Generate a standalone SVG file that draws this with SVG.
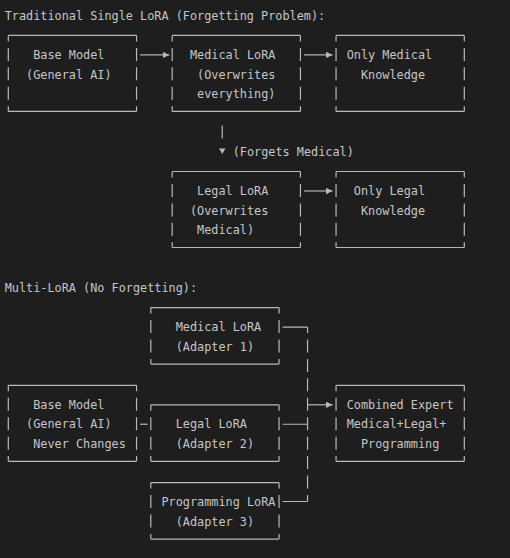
<svg xmlns="http://www.w3.org/2000/svg" width="510" height="558" viewBox="0 0 510 558">
<style>
  .t { font-family: "DejaVu Sans Mono", "Liberation Mono", monospace; font-size: 11.84px; fill: #c6c6c6; }
  .h { fill: none; stroke: #b8b8b8; stroke-width: 1.2; }
  .v { fill: none; stroke: #b8b8b8; stroke-width: 1.2; stroke-dasharray: 13 6.44; stroke-dashoffset: 7; }
  .tri { fill: #b8b8b8; }
</style>
<defs>
  <marker id="arr" markerUnits="userSpaceOnUse" markerWidth="8" markerHeight="8" refX="6.5" refY="3.2" orient="auto">
    <path d="M0,0 L6.5,3.2 L0,6.4 Z" fill="#b8b8b8"/>
  </marker>
</defs>
<rect width="510" height="558" fill="#1e1e1e"/>

<text class="t" x="4.74" y="20.2">Traditional Single LoRA (Forgetting Problem):</text>
<text class="t" x="4.74" y="292.36">Multi-LoRA (No Forgetting):</text>

<g id="base1">
  <path class="h" d="M8.3,35.44 H136.55 M8.3,111.4 H136.55"/>
  <path class="v" d="M8.3,35.44 V111.4 M136.55,35.44 V111.4"/>
  <text class="t" x="33.24" y="59.08">Base Model</text>
  <text class="t" x="26.12" y="78.52">(General AI)</text>
</g>
<g id="medical1">
  <path class="h" d="M172.18,35.44 H300.43 M172.18,111.4 H300.43"/>
  <path class="v" d="M172.18,35.44 V111.4 M300.43,35.44 V111.4"/>
  <text class="t" x="189.99" y="59.08">Medical LoRA</text>
  <text class="t" x="197.12" y="78.52">(Overwrites</text>
  <text class="t" x="197.12" y="97.96">everything)</text>
</g>
<g id="onlymedical">
  <path class="h" d="M336.05,35.44 H464.3 M336.05,111.4 H464.3"/>
  <path class="v" d="M336.05,35.44 V111.4 M464.3,35.44 V111.4"/>
  <text class="t" x="346.74" y="59.08">Only Medical</text>
  <text class="t" x="360.99" y="78.52">Knowledge</text>
</g>
<g id="legal1">
  <path class="h" d="M172.18,171.52 H300.43 M172.18,247.5 H300.43"/>
  <path class="v" d="M172.18,171.52 V247.5 M300.43,171.52 V247.5"/>
  <text class="t" x="197.12" y="195.16">Legal LoRA</text>
  <text class="t" x="189.99" y="214.6">(Overwrites</text>
  <text class="t" x="197.12" y="234.04">Medical)</text>
</g>
<g id="onlylegal">
  <path class="h" d="M336.05,171.52 H464.3 M336.05,247.5 H464.3"/>
  <path class="v" d="M336.05,171.52 V247.5 M464.3,171.52 V247.5"/>
  <text class="t" x="353.87" y="195.16">Only Legal</text>
  <text class="t" x="360.99" y="214.6">Knowledge</text>
</g>

<g id="medicaladapter">
  <path class="h" d="M150.8,307.6 H279.05 M150.8,364.1 H279.05"/>
  <path class="v" d="M150.8,307.6 V364.1 M279.05,307.6 V364.1"/>
  <text class="t" x="175.74" y="331.24">Medical LoRA</text>
  <text class="t" x="175.74" y="350.68">(Adapter 1)</text>
</g>
<g id="base2">
  <path class="h" d="M8.3,385.36 H136.55 M8.3,461.3 H136.55"/>
  <path class="v" d="M8.3,385.36 V461.3 M136.55,385.36 V461.3"/>
  <text class="t" x="33.24" y="409">Base Model</text>
  <text class="t" x="26.12" y="428.44">(General AI)</text>
  <text class="t" x="33.24" y="447.88">Never Changes</text>
</g>
<g id="legaladapter">
  <path class="h" d="M150.8,404.8 H279.05 M150.8,461.3 H279.05"/>
  <path class="v" d="M150.8,404.8 V461.3 M279.05,404.8 V461.3"/>
  <text class="t" x="175.74" y="428.44">Legal LoRA</text>
  <text class="t" x="175.74" y="447.88">(Adapter 2)</text>
</g>
<g id="combined">
  <path class="h" d="M336.05,385.36 H464.3 M336.05,461.3 H464.3"/>
  <path class="v" d="M336.05,385.36 V461.3 M464.3,385.36 V461.3"/>
  <text class="t" x="346.74" y="409">Combined Expert</text>
  <text class="t" x="346.74" y="428.44">Medical+Legal+</text>
  <text class="t" x="360.99" y="447.88">Programming</text>
</g>
<g id="progadapter">
  <path class="h" d="M150.8,482.56 H279.05 M150.8,539.1 H279.05"/>
  <path class="v" d="M150.8,482.56 V539.1 M279.05,482.56 V539.1"/>
  <text class="t" x="161.49" y="506.2">Programming LoRA</text>
  <text class="t" x="175.74" y="525.64">(Adapter 3)</text>
</g>

<g id="connectors">
  <path class="h" d="M140.1,54.88 H169.3" marker-end="url(#arr)"/>
  <path class="h" d="M304,54.88 H332.5" marker-end="url(#arr)"/>
  <path class="h" d="M304,190.96 H332.5" marker-end="url(#arr)"/>
  <path class="h" d="M222.24,125.6 V138.6"/>
  <polygon class="tri" points="219,148.4 225.5,148.4 222.25,154"/>
  <text class="t" x="232.74" y="156.28">(Forgets Medical)</text>
  <path class="h" d="M140.1,424.24 H147.6"/>
  <path class="h" d="M282.6,327.04 H307.55 M282.6,424.24 H307.55 M282.6,501.5 H307.55"/>
  <path class="v" d="M307.55,327.04 V501.5"/>
  <path class="h" d="M307.55,404.8 H332.5" marker-end="url(#arr)"/>
</g>
</svg>
